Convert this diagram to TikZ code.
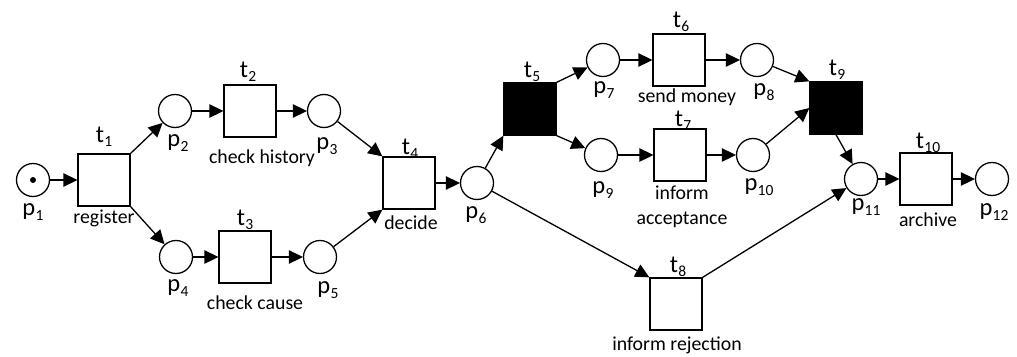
\documentclass[tikz,border=0pt]{standalone}
\usepackage{fontspec}
\setmainfont{Carlito}
\usetikzlibrary{arrows.meta}
% label with a lowered subscript index
\newcommand\idx[2]{#1\kern0.3pt{\fontsize{15.5}{15.5}\selectfont\raisebox{-4.5pt}{#2}}}

\tikzset{
  place/.style={circle,draw,line width=1.3pt,minimum size=33pt,inner sep=0pt},
  trans/.style={rectangle,draw,line width=1.3pt,minimum size=52pt,inner sep=0pt},
  silent/.style={trans,fill=black},
  arc/.style={line width=1.3pt,-{Triangle[length=14pt,width=13.5pt]}},
  tag/.style={font=\fontsize{24.5}{24.5}\selectfont,inner sep=0pt},
  desc/.style={font=\fontsize{19.8}{19.8}\selectfont,inner sep=0pt},
}

\begin{document}
\begin{tikzpicture}[x=1pt,y=-1pt]
\useasboundingbox (0,0) rectangle (1017,356);

% places
\node[place] (p1)  at (33,180) {};
\fill (p1.center) circle (3pt);
\node[place] (p2)  at (175,111) {};
\node[place] (p3)  at (324,111) {};
\node[place] (p4)  at (176,257) {};
\node[place] (p5)  at (320,257) {};
\node[place] (p6)  at (477,183) {};
\node[place] (p7)  at (603,60) {};
\node[place] (p8)  at (757,60) {};
\node[place] (p9)  at (601,155) {};
\node[place] (p10) at (753,155) {};
\node[place] (p11) at (861,179) {};
\node[place] (p12) at (992,179) {};

% transitions
\node[trans]  (t1)  at (104,180) {};
\node[trans]  (t2)  at (250,111) {};
\node[trans]  (t3)  at (245,257) {};
\node[trans]  (t4)  at (409,183) {};
\node[silent] (t5)  at (530,109) {};
\node[trans]  (t6)  at (679,60) {};
\node[trans]  (t7)  at (680,155) {};
\node[trans]  (t8)  at (676,304) {};
\node[silent] (t9)  at (836,108) {};
\node[trans]  (t10) at (926,179) {};

% place names
\node[tag] (lp1)  at (33,212)  {\idx{p}{1}};
\node[tag] (lp2)  at (178,143) {\idx{p}{2}};
\node[tag] (lp3)  at (327,146) {\idx{p}{3}};
\node[tag] (lp4)  at (178,288) {\idx{p}{4}};
\node[tag] (lp5)  at (328,290) {\idx{p}{5}};
\node[tag] (lp6)  at (476,215) {\idx{p}{6}};
\node[tag] (lp7)  at (604,90)  {\idx{p}{7}};
\node[tag] (lp8)  at (764,92)  {\idx{p}{8}};
\node[tag] (lp9)  at (603,190) {\idx{p}{9}};
\node[tag] (lp10) at (759,187) {\idx{p}{10}};
\node[tag] (lp11) at (866,207) {\idx{p}{11}};
\node[tag] (lp12) at (994,212) {\idx{p}{12}};

% transition names
\node[tag] (lt1)  at (104,137) {\idx{t}{1}};
\node[tag] (lt2)  at (248,72)  {\idx{t}{2}};
\node[tag] (lt3)  at (245,220) {\idx{t}{3}};
\node[tag] (lt4)  at (410,149) {\idx{t}{4}};
\node[tag] (lt5)  at (532,72)  {\idx{t}{5}};
\node[tag] (lt6)  at (681,22)  {\idx{t}{6}};
\node[tag] (lt7)  at (683,121) {\idx{t}{7}};
\node[tag] (lt8)  at (678,267) {\idx{t}{8}};
\node[tag] (lt9)  at (837,70)  {\idx{t}{9}};
\node[tag] (lt10) at (928,143) {\idx{t}{10}};

% activity descriptions
\node[desc] (dt1)  at (104,218) {register};
\node[desc] (dt2)  at (262,158) {check history};
\node[desc] (dt3)  at (255,303) {check cause};
\node[desc] (dt4)  at (411,223) {decide};
\node[desc] (dt6)  at (687,97)  {send money};
\node[desc] (dt7a) at (682,193) {inform};
\node[desc] (dt7b) at (682,220) {acceptance};
\node[desc] (dt8)  at (677,345) {inform rejection};
\node[desc] (dt10) at (928,220) {archive};

% arcs
\draw[arc] (p1) -- (t1);
\draw[arc] (t1.north east) -- (p2);
\draw[arc] (t1.south east) -- (p4);
\draw[arc] (p2) -- (t2);
\draw[arc] (t2) -- (p3);
\draw[arc] (p4) -- (t3);
\draw[arc] (t3) -- (p5);
\draw[arc] (p3) -- (t4.north west);
\draw[arc] (p5) -- (t4.south west);
\draw[arc] (t4) -- (p6);
\draw[arc] (p6) -- (t5.south west);
\draw[arc] (p6) -- (t8.north west);
\draw[arc] (t5.north east) -- (p7);
\draw[arc] (t5.south east) -- (p9);
\draw[arc] (p7) -- (t6);
\draw[arc] (t6) -- (p8);
\draw[arc] (p9) -- (t7);
\draw[arc] (t7) -- (p10);
\draw[arc] (p8) -- (t9.north west);
\draw[arc] (p10) -- (t9.west);
\draw[arc] (t9.south) -- (p11);
\draw[arc] (t8.north east) -- (p11);
\draw[arc] (p11) -- (t10);
\draw[arc] (t10) -- (p12);
\end{tikzpicture}
\end{document}
